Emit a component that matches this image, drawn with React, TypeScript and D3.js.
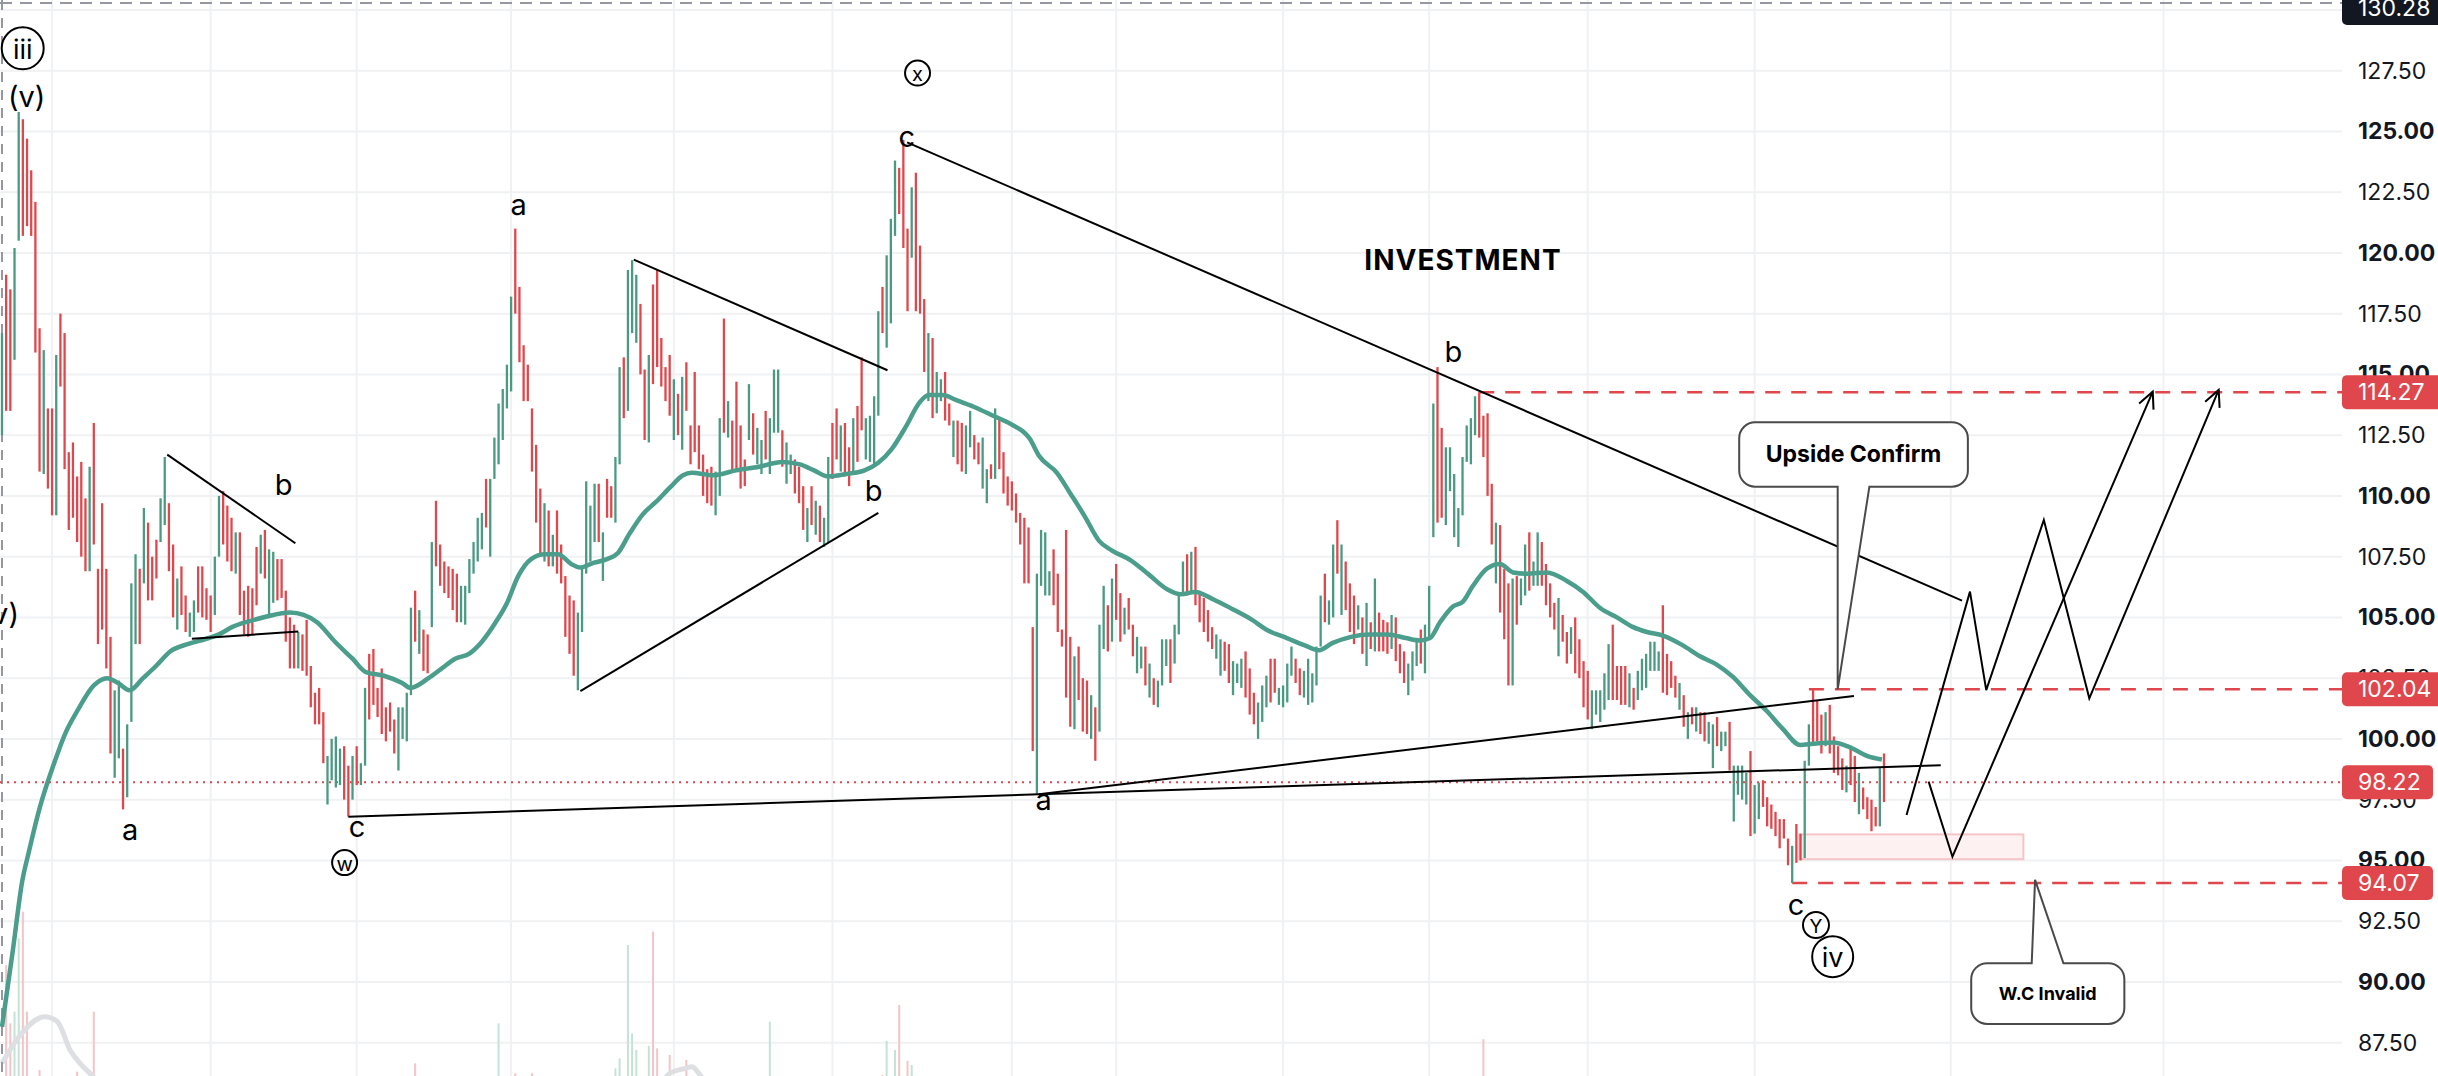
import React from "react";
import * as d3 from "d3";

// ---- price bars (high / low), G = up, R = down ----
const highs = [
  // first leg: (v) top, a, b, c (w)
  116.7, 119.1, 118.5, 120.2, 125.8, 125.5, 124.7, 123.4, 122.1, 116.9,
  116.0, 113.6, 113.6, 115.8, 117.5, 116.7, 111.8, 112.2, 110.8, 111.4,
  109.9, 111.2, 113.0, 107.0, 109.7, 107.0, 104.2, 102.0, 102.4, 99.6,
  100.6, 106.4, 107.6, 107.0, 109.5, 108.9, 107.5, 108.2, 109.9, 111.6,
  109.7, 108.0, 106.6, 107.1, 105.9, 105.2, 105.7, 107.1, 107.1, 106.2,
  105.9, 107.5, 110.0, 110.2, 109.6, 109.1, 108.5, 108.5, 106.1, 106.3,
  106.2, 107.9, 108.4, 108.6, 107.8, 107.7, 107.4, 107.4, 106.1, 105.0,
  104.7, 104.4, 104.3, 104.9, 103.0, 101.9, 102.1, 101.1, 99.3, 100.0,
  100.1, 99.6, 99.7, 98.9, 99.3, 99.7, 99.0, 102.1, 103.5, 103.7,
  102.1, 102.9, 101.3, 101.5, 100.8, 101.3, 101.3, 101.9, 105.4, 106.1,
  105.3, 104.5, 104.3, 108.1, 109.8, 108.0, 107.3, 107.1, 107.0, 106.8,
  106.3, 106.3, 107.4, 108.1, 109.1, 109.3, 110.7, 110.7, 112.4, 113.8,
  114.4, 115.4, 118.2, 121.0, 118.6, 116.2, 115.4, 113.6, 112.1, 110.3,
  109.7, 109.4, 108.4, 109.4, 108.0, 106.7, 105.9, 105.7, 105.2, 107.1,
  110.6, 109.6, 110.5, 110.5, 108.5, 110.7, 110.4, 111.6, 115.3, 115.7,
  119.3, 119.7, 119.1, 117.9, 115.2, 115.8, 118.7, 119.3, 116.5, 115.3,
  115.8, 114.8, 114.2, 114.9, 115.5, 112.9,
  // x top and the fall to a
  115.1, 112.9, 111.7, 111.1, 111.2, 111.0, 113.2, 117.3, 113.9, 113.1,
  114.7, 112.9, 111.5, 114.6, 113.4, 112.8, 112.3, 113.5, 113.2, 115.2,
  115.2, 112.7, 112.2, 111.7, 111.5, 111.2, 110.4, 109.5, 110.4, 109.8,
  109.6, 109.1, 111.6, 113.0, 113.6, 112.9, 113.0, 112.0, 113.2, 113.7,
  115.7, 113.2, 113.3, 114.1, 117.6, 118.6, 119.9, 121.4, 123.8, 123.5,
  124.65, 121.0, 122.7, 123.3, 120.3, 118.1, 116.7, 116.5, 115.1, 114.8,
  115.1, 113.8, 113.1, 113.1, 113.0, 112.9, 113.5, 112.5, 112.2, 112.4,
  111.1, 111.3, 113.6, 113.2, 111.8, 110.8, 110.6, 110.1, 109.3, 109.1,
  108.7, 104.6, 106.8, 108.6, 108.5, 106.9, 107.8, 106.8, 104.5, 108.6,
  104.2, 103.4, 103.8, 102.5, 102.4, 101.8, 101.3, 104.7, 106.3, 105.5,
  106.6, 107.2, 106.0, 105.4, 105.8, 104.7, 104.2, 103.8, 103.8, 103.1,
  102.5, 102.4, 104.1, 104.1, 104.1, 104.7, 106.0, 107.3, 107.6, 107.7,
  107.9, 106.1, 105.8, 105.3, 104.6, 104.3, 104.1, 104.0, 103.9, 103.2,
  103.1, 103.3, 103.6, 102.9, 101.9, 101.5, 102.2, 102.6, 103.3, 103.3,
  102.1, 102.2, 103.1, 103.8, 103.3, 102.9, 102.8, 103.3, 102.7, 103.8,
  105.9, 106.8, 105.7, 108.0, 109.0, 108.0, 107.3, 106.4, 105.9, 105.5,
  105.0, 105.6, 104.8, 106.6, 105.2, 104.9, 104.8, 105.1, 105.0, 103.9,
  103.6,
  // b spike and the decline into c (Y)
  103.1, 103.6, 104.1, 104.5, 104.7, 106.3, 113.8, 115.3, 112.8, 112.0,
  112.0, 110.9, 109.5, 111.6, 112.9, 113.2, 114.1, 114.27, 113.3, 113.4,
  110.5, 108.9, 108.8, 107.0, 106.4, 106.6, 106.7, 106.6, 108.0, 108.5,
  107.3, 108.5, 108.1, 107.2, 106.4, 105.6, 105.8, 105.1, 104.4, 104.6,
  105.0, 104.1, 103.2, 102.8, 102.0, 102.0, 102.0, 102.7, 103.9, 104.7,
  103.0, 103.0, 103.0, 102.7, 102.1, 102.8, 103.3, 103.5, 104.0, 104.0,
  103.6, 105.5, 103.5, 103.2, 102.6, 102.3, 101.8, 101.1, 101.3, 101.3,
  101.1, 101.1, 100.7, 100.6, 100.9, 100.3, 100.3, 100.7, 98.9, 98.9,
  98.9, 98.6, 99.5, 98.1, 98.2, 98.3, 97.6, 97.3, 97.0, 96.7,
  96.7, 95.9, 95.6, 96.5, 96.1, 99.1, 100.6, 102.04, 101.6, 101.0,
  101.1, 101.4, 100.1, 99.7, 99.2, 98.9, 99.7, 99.3, 98.6, 98.0,
  97.6, 97.5, 97.2, 98.8, 99.4,
];

const lows = [
  112.5, 113.5, 113.5, 115.6, 120.5, 120.7, 121.1, 120.7, 115.9, 111.0,
  110.9, 110.3, 109.2, 109.2, 114.5, 111.1, 108.6, 109.1, 108.1, 107.5,
  106.9, 106.9, 108.0, 103.9, 104.5, 102.9, 99.4, 98.4, 99.2, 97.1,
  97.6, 100.7, 103.9, 103.9, 106.4, 105.7, 105.7, 106.6, 108.1, 108.8,
  106.9, 105.0, 104.5, 105.1, 104.4, 104.2, 104.4, 105.2, 105.0, 104.9,
  104.4, 105.1, 107.5, 108.0, 107.3, 106.9, 106.8, 105.1, 104.3, 104.2,
  104.3, 105.5, 106.8, 106.6, 105.1, 105.6, 105.7, 105.8, 104.0, 102.9,
  102.9, 102.9, 102.8, 102.6, 101.3, 100.6, 100.6, 99.0, 97.3, 98.3,
  98.0, 98.1, 97.5, 96.8, 97.5, 98.1, 98.1, 98.9, 100.8, 101.4,
  100.9, 100.2, 99.9, 100.3, 99.4, 98.7, 100.0, 99.9, 101.8, 104.0,
  103.5, 102.8, 102.7, 104.6, 107.1, 106.3, 106.0, 105.8, 105.3, 104.8,
  104.8, 104.7, 106.0, 106.8, 107.3, 107.8, 108.7, 107.5, 110.7, 111.3,
  112.3, 113.6, 114.3, 117.5, 115.5, 113.9, 113.9, 111.0, 108.9, 107.5,
  107.3, 107.1, 107.1, 106.8, 106.4, 104.2, 103.5, 102.6, 102.0, 104.4,
  106.8, 107.3, 108.1, 108.1, 106.5, 109.1, 109.1, 108.9, 111.3, 113.2,
  113.5, 116.7, 116.3, 115.0, 112.3, 112.2, 114.6, 115.3, 114.5, 113.9,
  113.3, 112.3, 112.5, 111.9, 113.5, 111.3,
  111.8, 111.1, 110.0, 109.7, 109.6, 109.2, 110.0, 112.6, 112.4, 111.0,
  111.1, 110.3, 110.4, 112.3, 111.7, 111.3, 110.9, 111.5, 110.9, 112.6,
  112.6, 111.2, 110.5, 110.9, 110.1, 109.7, 108.6, 108.1, 108.8, 108.4,
  108.1, 107.9, 108.1, 110.7, 111.5, 111.0, 110.8, 110.4, 111.0, 111.4,
  112.7, 111.5, 111.4, 111.3, 113.3, 116.7, 116.1, 117.1, 120.7, 121.6,
  120.2, 117.6, 119.8, 117.6, 117.5, 115.1, 113.9, 113.2, 113.4, 113.9,
  113.1, 112.9, 111.6, 111.3, 111.0, 110.9, 112.0, 111.5, 111.3, 110.3,
  109.7, 110.7, 110.7, 111.1, 110.1, 109.6, 109.4, 108.9, 108.0, 106.4,
  106.4, 99.5, 97.7, 106.3, 105.9, 105.9, 105.5, 104.4, 103.8, 101.7,
  100.5, 100.4, 101.6, 100.3, 100.2, 100.0, 99.1, 100.3, 103.7, 103.6,
  104.0, 104.9, 104.0, 104.3, 104.5, 103.4, 102.7, 102.9, 102.2, 101.7,
  101.4, 101.3, 102.2, 103.0, 102.3, 103.1, 104.3, 106.0, 105.9, 106.0,
  105.5, 104.8, 104.4, 104.0, 103.7, 103.3, 102.6, 102.8, 102.3, 101.8,
  102.3, 102.1, 101.7, 101.0, 100.6, 100.0, 100.7, 101.3, 101.5, 101.9,
  101.4, 101.3, 101.5, 102.6, 102.3, 101.8, 101.7, 101.4, 101.5, 102.2,
  103.8, 104.8, 104.7, 105.0, 106.8, 105.1, 105.3, 104.4, 103.9, 104.5,
  103.5, 103.0, 103.7, 103.6, 103.6, 103.6, 103.5, 103.7, 103.2, 102.7,
  102.3,
  101.8, 102.4, 103.0, 103.1, 102.7, 104.2, 108.3, 108.9, 109.1, 108.8,
  110.2, 108.3, 107.9, 109.2, 111.4, 111.3, 112.5, 112.4, 111.6, 110.0,
  108.0, 106.4, 105.2, 104.1, 102.2, 102.2, 104.7, 105.5, 105.9, 106.1,
  106.3, 106.3, 106.3, 105.5, 105.0, 104.5, 103.4, 104.0, 103.1, 103.5,
  102.7, 102.5, 101.3, 100.8, 100.4, 101.0, 100.7, 101.2, 101.6, 101.6,
  101.6, 101.4, 101.4, 101.3, 101.2, 101.6, 102.0, 102.1, 102.8, 102.8,
  102.8, 101.9, 101.8, 102.1, 101.7, 101.2, 100.5, 100.0, 100.6, 100.3,
  100.2, 99.9, 99.8, 98.8, 99.7, 99.5, 99.7, 98.7, 96.6, 97.7,
  97.5, 97.3, 96.0, 96.1, 96.7, 97.2, 96.4, 96.3, 96.0, 95.5,
  95.9, 94.8, 94.07, 94.9, 95.0, 95.1, 98.9, 99.8, 99.9, 99.4,
  99.7, 99.4, 98.6, 98.5, 97.9, 97.8, 98.1, 97.4, 96.9, 97.1,
  96.7, 96.2, 96.4, 96.4, 97.4,
];

const sides = [
  "GRRGGRRRRR", "GRRGRRRRRR", "RGRRRRRGGR", "GGGRGRRRGG", "RRGRRGGRRR",
  "RGGRRRGRRR", "RRGRGGRRRR", "RGRRRRRRGG", "GGRRGRGGRR", "RRRRRGGGGR",
  "GRRGRRRRRR", "GGGGGGRGGG", "GGGRRRRRRR", "GRGRRRRRGG", "GGGRGRRGGR",
  "GGGRRGRRRR", "RGRGRR",
  "RRRRRGGRGR", "RRRGRGGRGG", "GRGGRRRGRG", "RGGRRGRRGR", "RGGGGRGGGR",
  "RRGRRRGRGG", "RRGRRGGRRG", "GRGRRRRRRR", "RRGGGGRRRR", "RGRRRGRGGR",
  "GRRGRRGGRG", "RGGGRGGGRG", "RRRRRGGRRG", "GGRRRGGGRR", "GGGGRRGGGG",
  "GRGGRGRRRG", "RGRGRRRGRR", "R",
  "GGGRGGGRRG", "GGGGGGGRRR", "RGRRRGRGGR", "GGRRRRGRRG", "RRRRGGGGGR",
  "RRRGRGGGGG", "GRRRRGRGRG", "RRGGRGGRGG", "GGRGGRRRRR", "RRGRRGGRRR",
  "GRRRRGRRGR", "RRRGR",
].join("");

// moving average, read at [bar index, price]
const maLine: [number, number][] = [
  [0, 88.15], [2.6, 91.3], [4.8, 94.1], [6.5, 95.4], [9.1, 97.2], [12.5, 99.0],
  [15.1, 100.2], [18.2, 101.2], [22, 102.2], [25.2, 102.5], [27.8, 102.3],
  [30.6, 102.0], [33.8, 102.5], [36.9, 103.0], [40.3, 103.6], [44.5, 103.9],
  [48.6, 104.1], [52, 104.3], [55.1, 104.6], [59.4, 104.85], [63.7, 105.05],
  [69, 105.2], [72.3, 105.1], [75.5, 104.8], [79.8, 104.0], [84, 103.3],
  [87.2, 102.75], [91.5, 102.6], [95.9, 102.3], [97.9, 102.1], [102.2, 102.5],
  [105.4, 102.9], [108.6, 103.3], [111.9, 103.5], [115, 104.0], [118.3, 104.8],
  [120.9, 105.55], [123.7, 106.7], [126.8, 107.4], [130.1, 107.6], [133.2, 107.6],
  [136.4, 107.2], [138.5, 107.05], [141.9, 107.25], [145, 107.4], [147.6, 107.65],
  [150.4, 108.45], [153.6, 109.25], [156.7, 109.75], [160.1, 110.35],
  [163.2, 110.85], [165.3, 110.95], [170.4, 110.85], [175.9, 111.05],
  [181.4, 111.2], [186.9, 111.4], [191.2, 111.3], [194.6, 111.05], [198, 110.8],
  [202.3, 110.9], [206.7, 111.05], [209.9, 111.35], [213.3, 111.95],
  [216.6, 112.85], [219.9, 113.85], [222.1, 114.15], [225.4, 114.15],
  [228.6, 113.95], [233.1, 113.65], [237.5, 113.3], [241.8, 112.95],
  [246.3, 112.35], [248.5, 111.65], [252.8, 110.95], [256.2, 110.05],
  [259.5, 109.15], [262.9, 108.15], [266, 107.75], [270.5, 107.35],
  [274.9, 106.75], [279.3, 106.15], [282.5, 105.95], [285.9, 106.05],
  [290.2, 105.75], [294.8, 105.35], [299.1, 104.95], [303.5, 104.45],
  [307.9, 104.15], [312.2, 103.85], [315.6, 103.65], [318.9, 103.95],
  [323.3, 104.2], [327.7, 104.3], [332.1, 104.3], [336.4, 104.15],
  [339.8, 104.05], [342.2, 104.15], [344.6, 104.8], [347.7, 105.45],
  [350.1, 105.65], [352.5, 106.3], [355.8, 107.0], [359, 107.2], [362.1, 106.85],
  [365.4, 106.8], [370.2, 106.85], [375, 106.5], [378.9, 106.05], [382.9, 105.4],
  [387, 105.0], [390.9, 104.6], [394.2, 104.4], [398, 104.25], [402.8, 103.85],
  [406.9, 103.4], [411, 103.05], [414.8, 102.55], [418.9, 101.8], [422.9, 101.15],
  [426.8, 100.4], [430.9, 99.75], [434, 99.8], [438.8, 99.85], [442.9, 99.65],
  [446.9, 99.3], [450.5, 99.15],
];

// volume spikes that reach into view: [bar index, volume]
const volumes: [number, number][] = [
  [1, 19.8], [2, 12.8], [3, 14.2], [4, 23.0], [5, 26.2], [6, 14.2], [9, 7.2],
  [18, 7.0], [21, 7.2], [22, 14.2], [99, 8.0], [119, 12.8], [123, 6.8], [127, 6.8],
  [147, 7.4], [148, 8.6], [150, 22.2], [151, 11.6], [152, 9.6], [155, 10.1],
  [156, 23.8], [157, 9.8], [160, 9.0], [164, 8.4], [184, 13.0], [211, 6.6],
  [212, 10.7], [214, 9.6], [215, 15.0], [217, 8.3], [218, 7.8], [355, 10.9],
];
const volMaLeft: [number, number][] = [
  [0, 8.0], [4.1, 11.2], [10.2, 13.6], [13.3, 13.0], [16.3, 9.6], [18.7, 8.0],
  [21.7, 6.5], [25.9, 4.2],
];
const volMaMid: [number, number][] = [
  [155, 4.0], [157.7, 5.4], [160, 6.8], [163.8, 7.4], [165.3, 7.6], [167.6, 6.4],
  [170.9, 4.2],
];

const priceTicks = [
  87.5, 90, 92.5, 95, 97.5, 100, 102.5, 105, 107.5, 110, 112.5, 115, 117.5, 120,
  122.5, 125, 127.5, 130,
];
const monthBars = [12, 50, 85, 122, 161, 199, 242, 267, 307, 342, 380, 420, 467, 518];

const targetLevel = 114.27;
const confirmLevel = 102.04;
const lastPrice = 98.22;
const invalidLevel = 94.07;
const crossPrice = 130.28;

// drawings, anchored at [bar index, price]
const trendLines: [number, number][][] = [
  [[39.6, 111.7], [70.3, 108.05]],
  [[45.5, 104.12], [71.0, 104.42]],
  [[83.0, 96.8], [464.6, 98.92]],
  [[248.5, 97.72], [443.8, 101.77]],
  [[138.6, 101.97], [210.0, 109.3]],
  [[151.4, 119.72], [212.2, 115.17]],
  [[216.9, 124.55], [469.7, 105.69]],
];
const pathA: [number, number][] = [
  [456.4, 96.87], [471.6, 106.06], [475.5, 102.01], [489.3, 109.01], [500.2, 101.67], [531.2, 114.36],
];
const pathB: [number, number][] = [[461.7, 98.24], [467.4, 95.15], [515.4, 114.29]];

const waveLabels = [
  { t: "(v)", i: 5.9, p: 126.43 },
  { t: "a", i: 30.7, p: 96.29 },
  { t: "b", i: 67.5, p: 110.45 },
  { t: "c", i: 85.1, p: 96.38 },
  { t: "a", i: 123.8, p: 122.01 },
  { t: "b", i: 208.9, p: 110.24 },
  { t: "c", i: 216.8, p: 124.81 },
  { t: "a", i: 249.6, p: 97.49 },
  { t: "b", i: 347.8, p: 115.93 },
  { t: "c", i: 429.9, p: 93.19 },
];
const circledLabels = [
  { t: "iii", i: 4.96, p: 128.42, r: 21, fs: 27 },
  { t: "w", i: 82.1, p: 94.91, r: 12.5, fs: 20 },
  { t: "x", i: 219.4, p: 127.4, r: 12.5, fs: 20 },
  { t: "Y", i: 434.7, p: 92.34, r: 13, fs: 19 },
  { t: "iv", i: 438.7, p: 91.04, r: 20.5, fs: 27 },
];

const W = 2438;
const H = 1076;
const AXIS_X = 2342;
const UP = "#4a9a82";
const DOWN = "#e0474c";
const FONT = "Inter, 'Noto Sans', sans-serif";

function calloutPath(
  x0: number, y0: number, x1: number, y1: number, r: number,
  side: "top" | "bottom", b1: number, b2: number, tx: number, ty: number
) {
  const p = d3.path();
  p.moveTo(x0 + r, y0);
  if (side === "top") {
    p.lineTo(b1, y0);
    p.lineTo(tx, ty);
    p.lineTo(b2, y0);
  }
  p.lineTo(x1 - r, y0);
  p.arcTo(x1, y0, x1, y0 + r, r);
  p.lineTo(x1, y1 - r);
  p.arcTo(x1, y1, x1 - r, y1, r);
  if (side === "bottom") {
    p.lineTo(b2, y1);
    p.lineTo(tx, ty);
    p.lineTo(b1, y1);
  }
  p.lineTo(x0 + r, y1);
  p.arcTo(x0, y1, x0, y1 - r, r);
  p.lineTo(x0, y0 + r);
  p.arcTo(x0, y0, x0 + r, y0, r);
  p.closePath();
  return p.toString();
}

function arrowHead(xa: number, ya: number, xb: number, yb: number) {
  const a = Math.atan2(yb - ya, xb - xa);
  const len = 18;
  const s = 0.45;
  const p1 = [xb - len * Math.cos(a - s), yb - len * Math.sin(a - s)];
  const p2 = [xb - len * Math.cos(a + s), yb - len * Math.sin(a + s)];
  return `M${p1[0]},${p1[1]}L${xb},${yb}L${p2[0]},${p2[1]}`;
}

export default function App() {
  const x = d3.scaleLinear().domain([0, highs.length - 1]).range([2, 1884]);
  const y = d3.scaleLinear().domain([130.407, 86.128]).range([0, H]);
  const yVol = d3.scaleLinear().domain([0, 30]).range([1130, 880]);

  const ma = d3
    .line<[number, number]>()
    .x((d) => x(d[0]))
    .y((d) => y(d[1]))
    .curve(d3.curveMonotoneX);
  const volMa = d3
    .line<[number, number]>()
    .x((d) => x(d[0]))
    .y((d) => yVol(d[1]))
    .curve(d3.curveMonotoneX);
  const poly = d3
    .line<[number, number]>()
    .x((d) => x(d[0]))
    .y((d) => y(d[1]));

  const tipA = pathA[pathA.length - 1];
  const preA = pathA[pathA.length - 2];
  const tipB = pathB[pathB.length - 1];
  const preB = pathB[pathB.length - 2];

  // callout boxes
  const up = {
    x0: x(416.3), x1: x(471.1), y0: y(113.03), y1: y(110.38),
    b1: x(439.9), b2: x(447.5), tx: x(439.9), ty: y(confirmLevel),
  };
  const wc = {
    x0: x(471.9), x1: x(508.6), y0: y(90.77), y1: y(88.27),
    b1: x(486.4), b2: x(494.0), tx: x(487.2), ty: y(94.2),
  };

  const levelBox = (price: number, fill: string, width: number, cy?: number) => {
    const c = cy ?? y(price);
    return (
      <g key={price}>
        <rect x={AXIS_X} y={c - 17} width={width} height={34} rx={5} fill={fill} />
        <text x={AXIS_X + 16} y={c} dominantBaseline="central" fill="#fff" fontSize={23} fontFamily={FONT}>
          {price.toFixed(2)}
        </text>
      </g>
    );
  };

  return (
    <div style={{ position: "absolute", left: 0, top: 0 }}>
      <style>{`body{margin:0}`}</style>
      <svg width={W} height={H} style={{ display: "block", background: "#fff" }}>
        <defs>
          <clipPath id="plot">
            <rect x={0} y={0} width={AXIS_X} height={H} />
          </clipPath>
        </defs>

        <g clipPath="url(#plot)">
          {/* grid */}
          {priceTicks.map((t) => (
            <line key={t} x1={0} x2={AXIS_X} y1={y(t)} y2={y(t)} stroke="#f0f1f3" strokeWidth={2} />
          ))}
          {monthBars.map((b) => (
            <line key={b} x1={x(b)} x2={x(b)} y1={0} y2={H} stroke="#f0f1f3" strokeWidth={2} />
          ))}

          {/* volume */}
          {volumes.map(([i, v]) => (
            <line
              key={i}
              x1={x(i)}
              x2={x(i)}
              y1={yVol(0)}
              y2={yVol(v)}
              stroke={sides[i] === "G" ? "#c3e3d6" : "#f4c4c7"}
              strokeWidth={2}
            />
          ))}
          <path d={volMa(volMaLeft) ?? ""} fill="none" stroke="#dedfe2" strokeWidth={5} />
          <path d={volMa(volMaMid) ?? ""} fill="none" stroke="#dedfe2" strokeWidth={5} />

          {/* crosshair */}
          <line x1={0} x2={AXIS_X} y1={y(crossPrice)} y2={y(crossPrice)} stroke="#9598a1" strokeWidth={2} strokeDasharray="12 8" />
          <line x1={2} x2={2} y1={0} y2={H} stroke="#9598a1" strokeWidth={2} strokeDasharray="10 8" />

          {/* pink zone */}
          <rect
            x={x(430.7)}
            y={y(96.07)}
            width={x(484.4) - x(430.7)}
            height={y(95.05) - y(96.07)}
            fill="#fdf1f1"
            stroke="#f4c5c8"
            strokeWidth={2}
          />

          {/* levels */}
          <line x1={0} x2={AXIS_X} y1={y(lastPrice)} y2={y(lastPrice)} stroke={DOWN} strokeWidth={2} strokeDasharray="2 5" />
          <line x1={x(354)} x2={AXIS_X} y1={y(targetLevel)} y2={y(targetLevel)} stroke={DOWN} strokeWidth={2.5} strokeDasharray="15 11" />
          <line x1={x(433)} x2={AXIS_X} y1={y(confirmLevel)} y2={y(confirmLevel)} stroke={DOWN} strokeWidth={2.5} strokeDasharray="15 11" />
          <line x1={x(429)} x2={AXIS_X} y1={y(invalidLevel)} y2={y(invalidLevel)} stroke={DOWN} strokeWidth={2.5} strokeDasharray="15 11" />

          {/* bars */}
          {highs.map((h, i) => {
            const top = y(h);
            const bot = Math.max(y(lows[i]), top + 2);
            return (
              <line
                key={i}
                x1={x(i)}
                x2={x(i)}
                y1={top}
                y2={bot}
                stroke={sides[i] === "G" ? UP : DOWN}
                strokeWidth={2.3}
              />
            );
          })}

          {/* moving average */}
          <path d={ma(maLine) ?? ""} fill="none" stroke="#4b9d8c" strokeWidth={4.5} strokeLinejoin="round" />

          {/* trend lines */}
          {trendLines.map((l, k) => (
            <path key={k} d={poly(l) ?? ""} fill="none" stroke="#000" strokeWidth={2} />
          ))}

          {/* projections */}
          <path d={poly(pathA) ?? ""} fill="none" stroke="#000" strokeWidth={2} />
          <path d={poly(pathB) ?? ""} fill="none" stroke="#000" strokeWidth={2} />
          <path d={arrowHead(x(preA[0]), y(preA[1]), x(tipA[0]), y(tipA[1]))} fill="none" stroke="#000" strokeWidth={2} />
          <path d={arrowHead(x(preB[0]), y(preB[1]), x(tipB[0]), y(tipB[1]))} fill="none" stroke="#000" strokeWidth={2} />

          {/* wave labels */}
          {waveLabels.map((l, k) => (
            <text
              key={k}
              x={x(l.i)}
              y={y(l.p)}
              textAnchor="middle"
              dominantBaseline="central"
              fontSize={29}
              fontFamily={FONT}
              fill="#000"
            >
              {l.t}
            </text>
          ))}
          <text x={19} y={y(105.16)} textAnchor="end" dominantBaseline="central" fontSize={29} fontFamily={FONT} fill="#000">
            (v)
          </text>
          {circledLabels.map((l, k) => (
            <g key={k}>
              <circle cx={x(l.i)} cy={y(l.p)} r={l.r} fill="none" stroke="#000" strokeWidth={2} />
              <text
                x={x(l.i)}
                y={y(l.p) + 1}
                textAnchor="middle"
                dominantBaseline="central"
                fontSize={l.fs}
                fontFamily={FONT}
                fill="#000"
              >
                {l.t}
              </text>
            </g>
          ))}

          <text
            x={x(350.1)}
            y={y(119.71)}
            textAnchor="middle"
            dominantBaseline="central"
            fontSize={28}
            fontWeight={700}
            letterSpacing={1}
            fontFamily={FONT}
            fill="#000"
          >
            INVESTMENT
          </text>

          {/* callouts */}
          <path
            d={calloutPath(up.x0, up.y0, up.x1, up.y1, 16, "bottom", up.b1, up.b2, up.tx, up.ty)}
            fill="#fff"
            stroke="#4a4a4a"
            strokeWidth={2}
          />
          <text
            x={(up.x0 + up.x1) / 2}
            y={(up.y0 + up.y1) / 2}
            textAnchor="middle"
            dominantBaseline="central"
            fontSize={23}
            fontWeight={700}
            fontFamily={FONT}
            fill="#000"
          >
            Upside Confirm
          </text>
          <path
            d={calloutPath(wc.x0, wc.y0, wc.x1, wc.y1, 16, "top", wc.b1, wc.b2, wc.tx, wc.ty)}
            fill="#fff"
            stroke="#4a4a4a"
            strokeWidth={2}
          />
          <text
            x={(wc.x0 + wc.x1) / 2}
            y={(wc.y0 + wc.y1) / 2}
            textAnchor="middle"
            dominantBaseline="central"
            fontSize={18}
            fontWeight={700}
            fontFamily={FONT}
            fill="#000"
          >
            W.C Invalid
          </text>
        </g>

        {/* price axis */}
        <rect x={AXIS_X} y={0} width={W - AXIS_X} height={H} fill="#fff" />
        {priceTicks.map((t) => (
          <text
            key={t}
            x={AXIS_X + 16}
            y={y(t)}
            dominantBaseline="central"
            fontSize={23}
            fontWeight={t % 5 === 0 ? 700 : 400}
            fontFamily={FONT}
            fill="#131722"
          >
            {t.toFixed(2)}
          </text>
        ))}
        {levelBox(targetLevel, DOWN, 110)}
        {levelBox(confirmLevel, DOWN, 110)}
        {levelBox(lastPrice, DOWN, 91)}
        {levelBox(invalidLevel, DOWN, 91)}
        {levelBox(crossPrice, "#131722", 110, 8)}
      </svg>
    </div>
  );
}
